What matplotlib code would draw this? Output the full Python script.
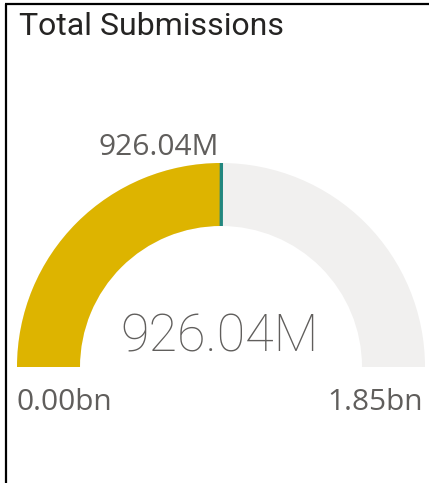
import matplotlib
matplotlib.use("Agg")
import matplotlib.pyplot as plt
from matplotlib.patches import Wedge
import numpy as np

# ---- data ----
title = "Total Submissions"
value = 926.04e6
target = 926.04e6
min_val = 0.0
max_val = 1.85e9
value_label = "926.04M"
target_label = "926.04M"
min_label = "0.00bn"
max_label = "1.85bn"

# ---- styling ----
W, H = 429, 483
GOLD = "#DDB400"
TRACK = "#F1F0EF"
TEAL = "#22877F"
LABEL = "#605E5C"
TITLE_C = "#252423"

fig = plt.figure(figsize=(W / 100, H / 100), dpi=100)
ax = fig.add_axes([0, 0, 1, 1])
ax.set_xlim(0, W)
ax.set_ylim(0, H)
ax.axis("off")

def Y(py):
    return H - py

cx, cy = 221, Y(367)
r_out, r_in = 204, 141
frac = (value - min_val) / (max_val - min_val)
ang = 180 - 180 * frac
tfrac = (target - min_val) / (max_val - min_val)
tang = np.radians(180 - 180 * tfrac)

ax.add_patch(Wedge((cx, cy), r_out, 0, 180, width=r_out - r_in, facecolor=TRACK, edgecolor="none"))
ax.add_patch(Wedge((cx, cy), r_out, ang, 180, width=r_out - r_in, facecolor=GOLD, edgecolor="none"))
ax.plot([cx + r_in * np.cos(tang), cx + r_out * np.cos(tang)],
        [cy + r_in * np.sin(tang), cy + r_out * np.sin(tang)],
        color=TEAL, lw=2.4, solid_capstyle="butt")

# border lines (left and top)
ax.plot([6, 6], [Y(4), 0], color="black", lw=1.6, solid_capstyle="butt")
ax.plot([5, W], [Y(4), Y(4)], color="black", lw=1.6, solid_capstyle="butt")

ax.text(19, Y(35), title, fontsize=23, color=TITLE_C, family=["Roboto", "DejaVu Sans"],
        ha="left", va="baseline")

small = dict(fontsize=21.5, color=LABEL, family=["Open Sans", "DejaVu Sans"], va="baseline")
ax.text(159, Y(155), target_label, ha="center", **small)
ax.text(17, Y(410), min_label, ha="left", **small)
ax.text(423, Y(410), max_label, ha="right", **small)

ax.text(220, Y(352), value_label, ha="center", va="baseline", fontsize=37.5,
        color=LABEL, family=["Roboto", "DejaVu Sans"], fontweight="light")

fig.savefig("out.png", dpi=100)
